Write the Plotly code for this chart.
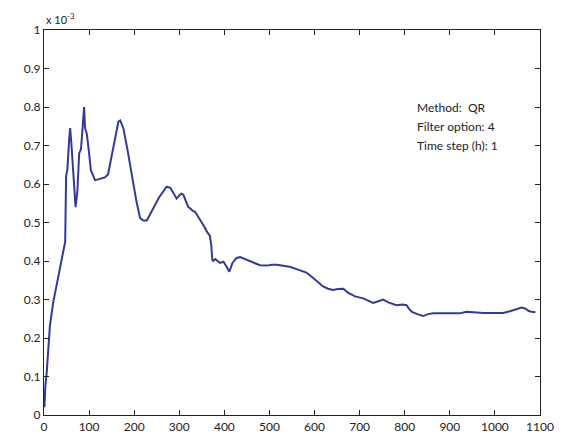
import plotly.graph_objects as go

# Iteration index and residual (in units of 1e-3)
iterations = [1, 3, 6, 13, 20, 28, 36, 43, 47, 49, 52, 56, 58, 61, 65, 70, 74, 78, 82, 86,
              89, 91, 95, 100, 104, 108, 113, 120, 128, 135, 142, 148, 154, 160, 165, 169,
              172, 176, 185, 195, 205, 213, 220, 228, 240, 255, 272, 280, 288, 294, 300,
              305, 309, 315, 320, 324, 330, 335, 345, 355, 362, 368, 371, 373, 375, 380,
              390, 398, 405, 411, 418, 427, 435, 450, 465, 479, 495, 505, 516, 530, 545,
              560, 570, 582, 595, 610, 619, 630, 641, 652, 664, 675, 690, 708, 720, 730,
              740, 752, 765, 775, 782, 795, 804, 810, 816, 828, 841, 852, 863, 880, 900,
              922, 937, 948, 959, 975, 1000, 1018, 1035, 1050, 1059, 1068, 1075, 1081, 1090]
residual = [0.02, 0.075, 0.11, 0.23, 0.29, 0.34, 0.385, 0.425, 0.45, 0.62, 0.64, 0.72, 0.745,
            0.70, 0.62, 0.54, 0.58, 0.68, 0.69, 0.76, 0.80, 0.745, 0.73, 0.68, 0.635, 0.625,
            0.61, 0.612, 0.615, 0.617, 0.625, 0.66, 0.705, 0.74, 0.762, 0.765, 0.755, 0.745,
            0.69, 0.62, 0.555, 0.512, 0.505, 0.505, 0.53, 0.565, 0.593, 0.59, 0.575, 0.562,
            0.57, 0.575, 0.572, 0.555, 0.54, 0.537, 0.53, 0.528, 0.51, 0.49, 0.475, 0.465,
            0.44, 0.405, 0.40, 0.405, 0.395, 0.398, 0.385, 0.372, 0.395, 0.408, 0.41, 0.403,
            0.395, 0.389, 0.388, 0.39, 0.39, 0.387, 0.385, 0.379, 0.375, 0.37, 0.358, 0.342,
            0.334, 0.328, 0.325, 0.327, 0.328, 0.317, 0.308, 0.303, 0.297, 0.291, 0.295, 0.300,
            0.292, 0.287, 0.285, 0.287, 0.285, 0.275, 0.268, 0.262, 0.257, 0.262, 0.264, 0.264,
            0.264, 0.264, 0.268, 0.267, 0.266, 0.265, 0.265, 0.265, 0.27, 0.276, 0.279, 0.276,
            0.27, 0.268, 0.267]

x_ticks = list(range(0, 1101, 100))
y_ticks = [0, 0.1, 0.2, 0.3, 0.4, 0.5, 0.6, 0.7, 0.8, 0.9, 1]
y_tick_text = ["0", "0.1", "0.2", "0.3", "0.4", "0.5", "0.6", "0.7", "0.8", "0.9", "1"]

info_lines = ["Method:  QR", "Filter option: 4", "Time step (h): 1"]
info_x = 823
info_y = [0.80, 0.75, 0.70]

font_family = "Lato, 'Open Sans', sans-serif"

fig = go.Figure()
fig.add_trace(go.Scatter(
    x=iterations, y=residual, mode="lines",
    line=dict(color="#34389a", width=2),
    showlegend=False,
))

for txt, yy in zip(info_lines, info_y):
    fig.add_annotation(x=info_x, y=yy, text=txt, showarrow=False,
                       xanchor="left", yanchor="middle",
                       font=dict(size=12, color="#222", family=font_family))

fig.add_annotation(xref="paper", yref="paper", x=0, y=1, text="x 10<sup>-3</sup>",
                   showarrow=False, xanchor="left", yanchor="bottom", yshift=2,
                   font=dict(size=11, color="#222", family=font_family))

axis_common = dict(
    showline=True, linecolor="#222", linewidth=1.2, mirror="ticks",
    ticks="inside", ticklen=5, tickcolor="#222", tickwidth=1,
    showgrid=False, zeroline=False,
    tickfont=dict(size=12, color="#222", family=font_family),
)

fig.update_xaxes(range=[0, 1100], tickvals=x_ticks, **axis_common)
fig.update_yaxes(range=[0, 1], tickvals=y_ticks, ticktext=y_tick_text, **axis_common)

fig.update_layout(
    width=567, height=446,
    margin=dict(l=44, r=27, t=30, b=24),
    paper_bgcolor="white", plot_bgcolor="white",
)

fig.write_html("out.html")
